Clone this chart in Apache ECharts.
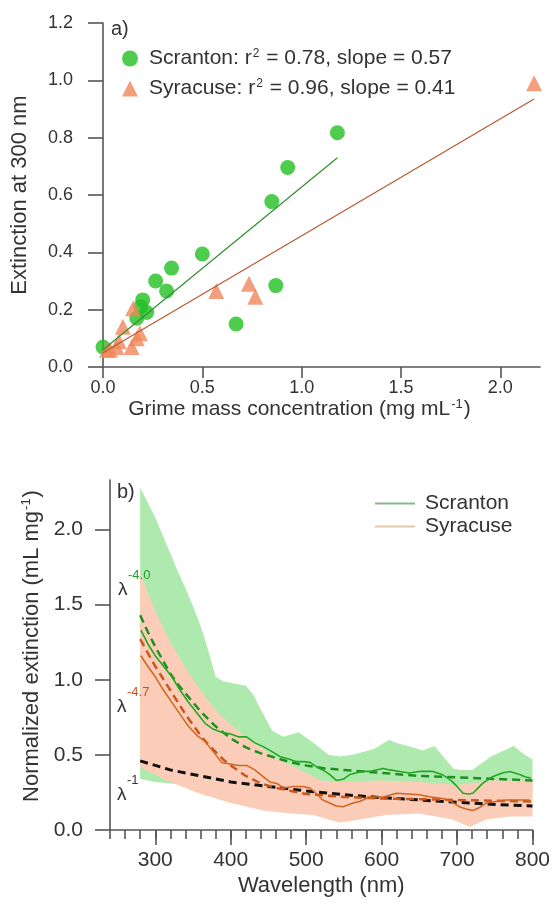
<!DOCTYPE html>
<html><head><meta charset="utf-8">
<script src="https://cdn.jsdelivr.net/npm/echarts@6/dist/echarts.min.js"></script>
<style>html,body{margin:0;padding:0;background:#fff}#c{width:553px;height:909px}</style>
</head><body><div id="c"></div><script>
// ---------- Panel a) data ----------
const scrX = [0.0, 0.17, 0.19, 0.20, 0.22, 0.265, 0.32, 0.345, 0.50, 0.67, 0.85, 0.87, 0.93, 1.18];
const scrY = [0.07, 0.17, 0.21, 0.234, 0.19, 0.30, 0.265, 0.345, 0.394, 0.15, 0.577, 0.284, 0.696, 0.817];
const syrX = [0.02, 0.035, 0.068, 0.08, 0.10, 0.144, 0.152, 0.17, 0.186, 0.57, 0.735, 0.767, 2.17];
const syrY = [0.06, 0.06, 0.07, 0.09, 0.14, 0.07, 0.205, 0.10, 0.118, 0.265, 0.29, 0.245, 0.99];
const fitScrX = [0.0, 1.18];
const fitScrY = [0.06, 0.73];
const fitSyrX = [0.0, 2.17];
const fitSyrY = [0.05, 0.935];
const xTicksA = [0, 0.5, 1.0, 1.5, 2.0];

// ---------- Panel b) data ----------
const wlGreenUp = [280,290,300,310,320,330,340,350,360,370,380,390,400,420,430,440,455,470,490,510,530,545,560,575,590,610,620,635,655,670,685,695,705,720,745,775,790,800];
const greenUp   = [2.28,2.18,2.08,1.96,1.84,1.72,1.61,1.49,1.36,1.2,1.02,0.99,0.98,0.96,0.9,0.8,0.66,0.62,0.65,0.58,0.5,0.49,0.5,0.52,0.54,0.6,0.58,0.56,0.53,0.56,0.47,0.41,0.4,0.4,0.49,0.56,0.5,0.47];
const wlGreenLo = [280,300,320,350,400,450,500,550,600,650,690,705,720,740,770,800];
const greenLo   = [0.34,0.32,0.31,0.3,0.28,0.26,0.25,0.24,0.25,0.25,0.2,0.14,0.13,0.17,0.22,0.22];
const wlOrangeUp = [280,290,300,320,340,360,380,400,420,440,460,480,500,520,550,600,650,700,750,800];
const orangeUp   = [1.72,1.58,1.46,1.25,1.08,0.93,0.8,0.7,0.62,0.55,0.48,0.43,0.38,0.33,0.32,0.33,0.32,0.3,0.33,0.33];
const wlOrangeLo = [280,290,300,311,330,355,380,400,443,480,509,530,545,571,606,650,694,717,739,770,800];
const orangeLo   = [0.42,0.39,0.37,0.34,0.3,0.25,0.21,0.18,0.13,0.11,0.1,0.07,0.05,0.07,0.1,0.11,0.07,0.02,0.07,0.09,0.09];

const wlScrMean = [281,290,300,311,322,333,344,355,366,377,388,399,410,421,432,443,452,465,479,487,496,505,514,522,531,540,550,558,566,575,584,602,611,624,637,650,668,680,692,700,708,715,721,728,734,747,760,770,783,790,798];
const scrMean   = [1.33,1.24,1.16,1.09,1.02,0.93,0.85,0.78,0.71,0.67,0.65,0.64,0.62,0.62,0.58,0.555,0.53,0.49,0.47,0.455,0.455,0.45,0.42,0.4,0.37,0.33,0.34,0.37,0.38,0.39,0.39,0.41,0.4,0.39,0.38,0.39,0.39,0.37,0.33,0.29,0.245,0.24,0.245,0.28,0.31,0.355,0.38,0.39,0.37,0.355,0.345];
const wlSyrMean = [281,290,300,311,322,333,344,355,366,377,388,399,410,421,432,443,452,461,470,483,496,505,514,522,531,540,549,562,571,584,602,620,635,650,665,681,692,703,712,721,730,739,752,765,780,796];
const syrMean   = [1.16,1.09,1.02,0.93,0.85,0.77,0.69,0.63,0.59,0.52,0.45,0.44,0.43,0.43,0.4,0.355,0.32,0.31,0.28,0.29,0.29,0.28,0.24,0.2,0.18,0.16,0.155,0.18,0.19,0.22,0.22,0.245,0.24,0.235,0.22,0.21,0.19,0.155,0.14,0.13,0.15,0.18,0.19,0.2,0.2,0.2];
const wlFit40 = [280,290,300,310,320,330,340,350,360,370,380,390,400,420,440,460,480,500,525,550,600,650,700,750,800];
const fit40   = [1.43,1.32,1.22,1.13,1.04,0.97,0.91,0.85,0.79,0.74,0.69,0.65,0.61,0.55,0.51,0.48,0.45,0.43,0.41,0.4,0.38,0.36,0.35,0.34,0.33];
const wlFit47 = [280,290,300,310,320,330,340,350,360,370,380,390,400,420,440,460,480,500,550,600,700,800];
const fit47   = [1.27,1.18,1.09,1.01,0.93,0.85,0.77,0.7,0.63,0.57,0.52,0.47,0.43,0.36,0.31,0.28,0.26,0.24,0.22,0.21,0.2,0.19];
const wlFit1 = [280,300,320,350,400,450,500,550,600,650,700,750,800];
const fit1   = [0.46,0.43,0.4,0.37,0.32,0.29,0.26,0.235,0.215,0.2,0.185,0.17,0.16];
const xTicksB = [300, 400, 500, 600, 700, 800];
const yTicksB = [0, 0.5, 1.0, 1.5, 2.0];

// ---------- styling ----------
const FONT = '"Liberation Sans", Arial, sans-serif';
const TXT = '#333';
const AX = '#555';
const GREEN = '#22bf22';
const ORANGE = '#f0875a';
const zip = (a, b) => a.map((v, i) => [v, b[i]]);

function band(wu, u, wl, l, color, z) {
  return {
    type: 'custom', xAxisIndex: 1, yAxisIndex: 1, silent: true, z: z,
    data: [[500, 1]],
    renderItem: function (params, api) {
      const pts = [];
      for (let i = 0; i < wu.length; i++) pts.push(api.coord([wu[i], u[i]]));
      for (let i = wl.length - 1; i >= 0; i--) pts.push(api.coord([wl[i], l[i]]));
      return { type: 'polygon', shape: { points: pts }, style: { fill: color } };
    }
  };
}
function line(name, wl, v, color, width, dash, z) {
  return {
    type: 'line', name: name, xAxisIndex: 1, yAxisIndex: 1, data: zip(wl, v),
    showSymbol: false, symbol: 'none', z: z, silent: true,
    lineStyle: { color: color, width: width, type: dash ? [8, 5] : 'solid' }
  };
}
function rich(size, sup) {
  return {
    t: { fontSize: size, fontFamily: FONT, color: TXT },
    s: { fontSize: sup, fontFamily: FONT, color: TXT, verticalAlign: 'top', padding: [0, 1, Math.round(size * 0.45), 1] }
  };
}
const lineW = { color: AX, width: 1.6 };

const chart = echarts.init(document.getElementById('c'), null, { renderer: 'canvas' });
chart.setOption({
  animation: false,
  backgroundColor: '#fff',
  grid: [
    { left: 103, right: 13, top: 23, bottom: 542 },
    { left: 110, right: 20, top: 480, bottom: 79 }
  ],
  xAxis: [
    {
      gridIndex: 0, type: 'value', min: 0, max: 2.2, interval: 0.5, splitLine: { show: false },
      axisLine: { lineStyle: lineW },
      axisTick: { show: true, length: 11, customValues: xTicksA, lineStyle: lineW },
      axisLabel: { color: TXT, fontSize: 18, fontFamily: FONT, margin: 12, customValues: xTicksA, formatter: v => v.toFixed(1) },
      name: '{t|Grime mass concentration (mg mL}{s|-1}{t|)}', nameLocation: 'middle', nameGap: 31,
      nameTextStyle: { rich: rich(21, 13), padding: [0, 44, 0, 0] }
    },
    {
      gridIndex: 1, type: 'value', min: 240, max: 800, interval: 20, splitLine: { show: false },
      axisLine: { lineStyle: lineW },
      axisTick: { show: true, length: 9, lineStyle: lineW },
      axisLabel: { color: TXT, fontSize: 21, fontFamily: FONT, margin: 20, customValues: xTicksB },
      name: 'Wavelength (nm)', nameLocation: 'middle', nameGap: 45,
      nameTextStyle: { color: TXT, fontSize: 22, fontFamily: FONT }
    },
    {
      gridIndex: 1, type: 'value', position: 'bottom', min: 240, max: 800, interval: 20,
      axisLine: { show: false }, splitLine: { show: false }, axisLabel: { show: false },
      axisTick: { show: true, length: 15, customValues: xTicksB, lineStyle: lineW }
    }
  ],
  yAxis: [
    {
      gridIndex: 0, type: 'value', min: 0, max: 1.2, interval: 0.2, splitLine: { show: false },
      axisLine: { lineStyle: lineW },
      axisTick: { show: true, length: 15, lineStyle: lineW },
      axisLabel: { color: TXT, fontSize: 18, fontFamily: FONT, margin: 30, formatter: v => v.toFixed(1) },
      name: 'Extinction at 300 nm', nameLocation: 'middle', nameGap: 72, nameRotate: 90,
      nameTextStyle: { color: TXT, fontSize: 22, fontFamily: FONT }
    },
    {
      gridIndex: 1, type: 'value', min: 0, max: 2.33, interval: 0.5, splitLine: { show: false },
      axisLine: { lineStyle: lineW },
      axisTick: { show: true, length: 15, customValues: yTicksB, lineStyle: lineW },
      axisLabel: { color: TXT, fontSize: 21, fontFamily: FONT, margin: 27, customValues: yTicksB, formatter: v => v.toFixed(1) },
      name: '{t|Normalized extinction (mL mg}{s|-1}{t|)}', nameLocation: 'middle', nameGap: 65, nameRotate: 90,
      nameTextStyle: { rich: rich(22, 13), padding: [0, 0, 0, 18] }
    }
  ],
  legend: [
    {
      orient: 'vertical', left: 117, top: 43, itemWidth: 16, itemHeight: 16, itemGap: 9, selectedMode: false,
      data: [
        { name: 'Scranton', icon: 'circle', itemStyle: { color: GREEN } },
        { name: 'Syracuse', icon: 'triangle', itemStyle: { color: ORANGE } }
      ],
      formatter: n => n === 'Scranton'
        ? '{t|Scranton: r}{s|2}{t| = 0.78, slope = 0.57}'
        : '{t|Syracuse: r}{s|2}{t| = 0.96, slope = 0.41}',
      textStyle: { rich: rich(21, 12), padding: [0, 0, 0, 6] }
    },
    {
      orient: 'vertical', left: 370, top: 487, itemWidth: 40, itemHeight: 2, itemGap: 0, selectedMode: false,
      data: [
        { name: 'Scranton', icon: 'rect', itemStyle: { color: '#6aa86a' } },
        { name: 'Syracuse', icon: 'rect', itemStyle: { color: '#dcb896' } }
      ],
      textStyle: { color: TXT, fontSize: 21, fontFamily: FONT, lineHeight: 23, padding: [0, 0, 0, 5] }
    }
  ],
  series: [
    { type: 'scatter', name: 'Scranton', xAxisIndex: 0, yAxisIndex: 0, data: zip(scrX, scrY),
      symbol: 'circle', symbolSize: 15, itemStyle: { color: GREEN }, z: 2 },
    { type: 'scatter', name: 'Syracuse', xAxisIndex: 0, yAxisIndex: 0, data: zip(syrX, syrY),
      symbol: 'triangle', symbolSize: 16, itemStyle: { color: ORANGE }, z: 3 },
    { type: 'line', name: 'Scranton fit', xAxisIndex: 0, yAxisIndex: 0, data: zip(fitScrX, fitScrY),
      showSymbol: false, symbol: 'none', z: 4, lineStyle: { color: '#2f8f2f', width: 1.2 } },
    { type: 'line', name: 'Syracuse fit', xAxisIndex: 0, yAxisIndex: 0, data: zip(fitSyrX, fitSyrY),
      showSymbol: false, symbol: 'none', z: 4, lineStyle: { color: '#b65a32', width: 1.2 } },

    band(wlGreenUp, greenUp, wlGreenLo, greenLo, '#aeeaae', 1),
    band(wlOrangeUp, orangeUp, wlOrangeLo, orangeLo, '#fbcdb8', 1),
    line('λ-1 fit', wlFit1, fit1, '#111', 3, true, 3),
    line('Syracuse λ-4.7 fit', wlFit47, fit47, '#c8561e', 2.5, true, 3),
    line('Scranton λ-4.0 fit', wlFit40, fit40, '#1f8f1f', 2.5, true, 3),
    line('Syracuse mean', wlSyrMean, syrMean, '#d2651f', 1.5, false, 4),
    line('Scranton mean', wlScrMean, scrMean, '#22a822', 1.6, false, 4)
  ],
  graphic: [
    { type: 'text', z: 100, left: 111, top: 19, style: { text: 'a)', fontSize: 20, fontFamily: FONT, fill: TXT } },
    { type: 'text', z: 100, left: 117, top: 482, style: { text: 'b)', fontSize: 20, fontFamily: FONT, fill: TXT } },
    { type: 'text', z: 100, left: 118, top: 580, style: { text: 'λ', fontSize: 19, fontFamily: FONT, fill: TXT } },
    { type: 'text', z: 100, left: 128, top: 569, style: { text: '-4.0', fontSize: 13, fontFamily: FONT, fill: '#2a9a2a' } },
    { type: 'text', z: 100, left: 117, top: 697, style: { text: 'λ', fontSize: 19, fontFamily: FONT, fill: TXT } },
    { type: 'text', z: 100, left: 127, top: 686, style: { text: '-4.7', fontSize: 13, fontFamily: FONT, fill: '#c8561e' } },
    { type: 'text', z: 100, left: 117, top: 785, style: { text: 'λ', fontSize: 19, fontFamily: FONT, fill: TXT } },
    { type: 'text', z: 100, left: 127, top: 774, style: { text: '-1', fontSize: 13, fontFamily: FONT, fill: TXT } }
  ]
});
</script></body></html>
